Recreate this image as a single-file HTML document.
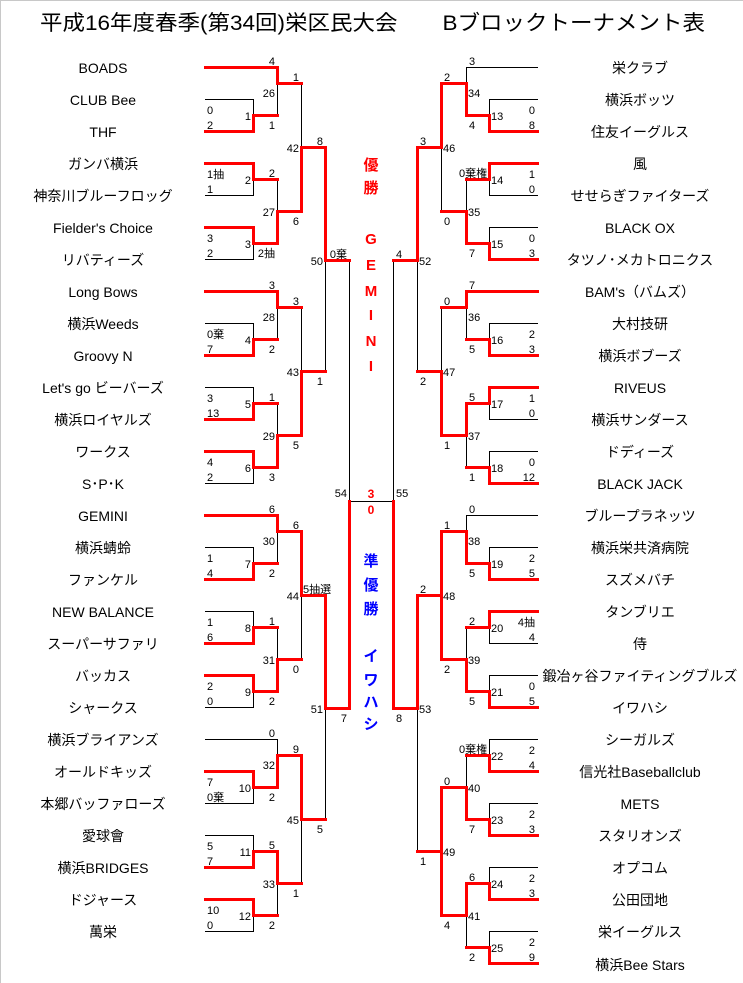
<!DOCTYPE html>
<html><head><meta charset="utf-8">
<style>
html,body{margin:0;padding:0;background:#fff;}
svg{display:block;}
text{font-family:"Liberation Sans","Noto Sans CJK JP",sans-serif;}
.n{font-size:11px;fill:#000;}
.t{font-size:14px;fill:#000;}
.l{text-anchor:middle;}
.e{text-anchor:end;}
</style></head><body>
<svg id="s" width="743" height="983" viewBox="0 0 743 983" xmlns="http://www.w3.org/2000/svg">
<rect x="0" y="0" width="743" height="983" fill="#fff"/>
<line x1="0" y1="0.5" x2="743" y2="0.5" stroke="#c8c8c8"/>
<line x1="0.5" y1="0" x2="0.5" y2="983" stroke="#c8c8c8"/>
<g id="lines"></g>
<text x="40" y="30" font-size="21" textLength="665" lengthAdjust="spacingAndGlyphs">平成16年度春季(第34回)栄区民大会　　Bブロックトーナメント表</text>

<g class="t l">
<text x="103" y="73">BOADS</text>
<text x="103" y="105">CLUB Bee</text>
<text x="103" y="137">THF</text>
<text x="103" y="169">ガンバ横浜</text>
<text x="103" y="201">神奈川ブルーフロッグ</text>
<text x="103" y="233">Fielder's Choice</text>
<text x="103" y="265">リバティーズ</text>
<text x="103" y="297">Long Bows</text>
<text x="103" y="329">横浜Weeds</text>
<text x="103" y="361">Groovy N</text>
<text x="103" y="393">Let's go ビーバーズ</text>
<text x="103" y="425">横浜ロイヤルズ</text>
<text x="103" y="457">ワークス</text>
<text x="103" y="489">S･P･K</text>
<text x="103" y="521">GEMINI</text>
<text x="103" y="553">横浜蜻蛉</text>
<text x="103" y="585">ファンケル</text>
<text x="103" y="617">NEW BALANCE</text>
<text x="103" y="649">スーパーサファリ</text>
<text x="103" y="681">バッカス</text>
<text x="103" y="713">シャークス</text>
<text x="103" y="745">横浜ブライアンズ</text>
<text x="103" y="777">オールドキッズ</text>
<text x="103" y="809">本郷バッファローズ</text>
<text x="103" y="841">愛球會</text>
<text x="103" y="873">横浜BRIDGES</text>
<text x="103" y="905">ドジャース</text>
<text x="103" y="937">萬栄</text>

<text x="640" y="73">栄クラブ</text>
<text x="640" y="105">横浜ボッツ</text>
<text x="640" y="137">住友イーグルス</text>
<text x="640" y="169">風</text>
<text x="640" y="201">せせらぎファイターズ</text>
<text x="640" y="233">BLACK OX</text>
<text x="640" y="265">タツノ･メカトロニクス</text>
<text x="640" y="297">BAM's（バムズ）</text>
<text x="640" y="329">大村技研</text>
<text x="640" y="361">横浜ボブーズ</text>
<text x="640" y="393">RIVEUS</text>
<text x="640" y="425">横浜サンダース</text>
<text x="640" y="457">ドディーズ</text>
<text x="640" y="489">BLACK JACK</text>
<text x="640" y="521">ブループラネッツ</text>
<text x="640" y="553">横浜栄共済病院</text>
<text x="640" y="585">スズメバチ</text>
<text x="640" y="617">タンブリエ</text>
<text x="640" y="649">侍</text>
<text x="640" y="681">鍛冶ヶ谷ファイティングブルズ</text>
<text x="640" y="713">イワハシ</text>
<text x="640" y="745">シーガルズ</text>
<text x="640" y="777">信光社Baseballclub</text>
<text x="640" y="809">METS</text>
<text x="640" y="841">スタリオンズ</text>
<text x="640" y="873">オプコム</text>
<text x="640" y="905">公田団地</text>
<text x="640" y="937">栄イーグルス</text>
<text x="640" y="970">横浜Bee Stars</text>
</g>

<g class="n">
<text x="207" y="114">0</text><text x="207" y="129">2</text>
<text x="207" y="178">1抽</text><text x="207" y="193">1</text>
<text x="207" y="242">3</text><text x="207" y="257">2</text>
<text x="207" y="338">0棄</text><text x="207" y="353">7</text>
<text x="207" y="402">3</text><text x="207" y="417">13</text>
<text x="207" y="466">4</text><text x="207" y="481">2</text>
<text x="207" y="562">1</text><text x="207" y="577">4</text>
<text x="207" y="626">1</text><text x="207" y="641">6</text>
<text x="207" y="690">2</text><text x="207" y="705">0</text>
<text x="207" y="786">7</text><text x="207" y="801">0棄</text>
<text x="207" y="850">5</text><text x="207" y="865">7</text>
<text x="207" y="914">10</text><text x="207" y="929">0</text>
<text x="303" y="593">5抽選</text>
<text x="459" y="177">0棄権</text>
<text x="459" y="753">0棄権</text>
</g>
<g class="n e">
<text x="251" y="120">1</text><text x="251" y="184">2</text><text x="251" y="248">3</text>
<text x="251" y="344">4</text><text x="251" y="408">5</text><text x="251" y="472">6</text>
<text x="251" y="568">7</text><text x="251" y="632">8</text><text x="251" y="696">9</text>
<text x="251" y="792">10</text><text x="251" y="856">11</text><text x="251" y="920">12</text>
<text x="275" y="65">4</text><text x="275" y="129">1</text><text x="275" y="97">26</text>
<text x="275" y="177">2</text><text x="275" y="257">2抽</text><text x="275" y="216">27</text>
<text x="275" y="289">3</text><text x="275" y="353">2</text><text x="275" y="321">28</text>
<text x="275" y="401">1</text><text x="275" y="481">3</text><text x="275" y="440">29</text>
<text x="275" y="513">6</text><text x="275" y="577">2</text><text x="275" y="545">30</text>
<text x="275" y="625">1</text><text x="275" y="705">2</text><text x="275" y="664">31</text>
<text x="275" y="737">0</text><text x="275" y="801">2</text><text x="275" y="769">32</text>
<text x="275" y="849">5</text><text x="275" y="929">2</text><text x="275" y="888">33</text>
<text x="299" y="81">1</text><text x="299" y="225">6</text><text x="299" y="152">42</text>
<text x="299" y="305">3</text><text x="299" y="449">5</text><text x="299" y="376">43</text>
<text x="299" y="529">6</text><text x="299" y="673">0</text><text x="299" y="600">44</text>
<text x="299" y="753">9</text><text x="299" y="897">1</text><text x="299" y="824">45</text>
<text x="323" y="145">8</text><text x="323" y="385">1</text><text x="323" y="265">50</text>
<text x="323" y="833">5</text><text x="323" y="713">51</text>
<text x="347" y="258">0棄</text><text x="347" y="722">7</text><text x="347" y="497">54</text>
<text x="535" y="114">0</text><text x="535" y="129">8</text>
<text x="535" y="178">1</text><text x="535" y="193">0</text>
<text x="535" y="242">0</text><text x="535" y="257">3</text>
<text x="535" y="338">2</text><text x="535" y="353">3</text>
<text x="535" y="402">1</text><text x="535" y="417">0</text>
<text x="535" y="466">0</text><text x="535" y="481">12</text>
<text x="535" y="562">2</text><text x="535" y="577">5</text>
<text x="535" y="626">4抽</text><text x="535" y="641">4</text>
<text x="535" y="690">0</text><text x="535" y="705">5</text>
<text x="535" y="754">2</text><text x="535" y="769">4</text>
<text x="535" y="818">2</text><text x="535" y="833">3</text>
<text x="535" y="882">2</text><text x="535" y="897">3</text>
<text x="535" y="946">2</text><text x="535" y="961">9</text>
</g>
<g class="n">
<text x="491" y="120">13</text><text x="491" y="184">14</text><text x="491" y="248">15</text>
<text x="491" y="344">16</text><text x="491" y="408">17</text><text x="491" y="472">18</text>
<text x="491" y="568">19</text><text x="491" y="632">20</text><text x="491" y="696">21</text>
<text x="491" y="760">22</text><text x="491" y="824">23</text><text x="491" y="888">24</text><text x="491" y="952">25</text>
<text x="469" y="65">3</text><text x="469" y="129">4</text><text x="468" y="97">34</text>
<text x="469" y="257">7</text><text x="468" y="216">35</text>
<text x="469" y="289">7</text><text x="469" y="353">5</text><text x="468" y="321">36</text>
<text x="469" y="401">5</text><text x="469" y="481">1</text><text x="468" y="440">37</text>
<text x="469" y="513">0</text><text x="469" y="577">5</text><text x="468" y="545">38</text>
<text x="469" y="625">2</text><text x="469" y="705">5</text><text x="468" y="664">39</text>
<text x="469" y="833">7</text><text x="468" y="792">40</text>
<text x="469" y="881">6</text><text x="469" y="961">2</text><text x="468" y="920">41</text>
<text x="444" y="81">2</text><text x="444" y="225">0</text><text x="443" y="152">46</text>
<text x="444" y="305">0</text><text x="444" y="449">1</text><text x="443" y="376">47</text>
<text x="444" y="529">1</text><text x="444" y="673">2</text><text x="443" y="600">48</text>
<text x="444" y="785">0</text><text x="444" y="929">4</text><text x="443" y="856">49</text>
<text x="420" y="145">3</text><text x="420" y="385">2</text><text x="419" y="265">52</text>
<text x="420" y="593">2</text><text x="420" y="865">1</text><text x="419" y="713">53</text>
<text x="396" y="258">4</text><text x="396" y="722">8</text><text x="396" y="497">55</text>
</g>

<g font-size="15" font-weight="bold" fill="#f00" text-anchor="middle">
<text x="371" y="498" font-size="12">3</text>
<text x="371" y="514" font-size="12">0</text>
<text x="371" y="170">優</text>
<text x="371" y="193">勝</text>
<text x="371" y="244">G</text>
<text x="371" y="270">E</text>
<text x="371" y="296">M</text>
<text x="371" y="320">I</text>
<text x="371" y="346">N</text>
<text x="371" y="371">I</text>
</g>
<g font-size="15" font-weight="bold" fill="#00f" text-anchor="middle">
<text x="371" y="566">準</text>
<text x="371" y="590">優</text>
<text x="371" y="614">勝</text>
<text x="371" y="661">イ</text>
<text x="371" y="685">ワ</text>
<text x="371" y="707">ハ</text>
<text x="371" y="729">シ</text>
</g>
</svg>
<script>
(function(){
var g=document.getElementById('lines');var NS='http://www.w3.org/2000/svg';
var R=[],B=[];
function seg(x1,y1,x2,y2,red){(red?R:B).push([x1,y1,x2,y2]);}
function Y(i){return 67+32*i;}
function M(x,yt,yb,yo,nx,win){
 seg(x,yt,x,yb,win==='a');
 if(win==='t')seg(x,yt,x,yo,1);
 if(win==='b')seg(x,yo,x,yb,1);
 seg(x,yo,nx,yo,1);
}
function box(side,r,win){
 var xs=side<0?205:537, xb=side<0?253:489, xn=side<0?277:466;
 seg(xs,Y(r),xb,Y(r),win==='t');
 seg(xs,Y(r+1),xb,Y(r+1),win==='b');
 M(xb,Y(r),Y(r+1),Y(r)+16,xn,win);
}
function quarter(side,b,singleRed,bw,m1,m2,m3){
 var xs=side<0?205:537, x2=side<0?277:466, x3=side<0?301:441, x4=side<0?325:417;
 seg(xs,Y(b),x2,Y(b),singleRed);
 box(side,b+1,bw[0]);box(side,b+3,bw[1]);box(side,b+5,bw[2]);
 M(x2,Y(b),Y(b+1)+16,Y(b)+16,x3,m1);
 M(x2,Y(b+3)+16,Y(b+5)+16,Y(b+4)+16,x3,m2);
 M(x3,Y(b)+16,Y(b+4)+16,Y(b+2)+16,x4,m3);
}
quarter(-1,0,1,['b','t','t'],'t','b','b');
quarter(-1,7,1,['b','b','t'],'t','b','b');
quarter(-1,14,1,['b','b','t'],'t','b','t');
quarter(-1,21,0,['t','b','t'],'b','t','t');
M(325,Y(2)+16,Y(9)+16,260,349,'t');
M(325,Y(16)+16,Y(23)+16,708,349,'t');
quarter(1,0,0,['b','t','b'],'b','b','t');
quarter(1,7,1,['b','t','b'],'t','t','b');
quarter(1,14,0,['b','t','b'],'b','b','a');
box(1,21,'b');box(1,23,'b');box(1,25,'b');box(1,27,'b');
M(466,Y(21)+16,Y(23)+16,Y(22)+16,441,'b');
M(466,Y(25)+16,Y(27)+16,Y(26)+16,441,'t');
M(441,Y(22)+16,Y(26)+16,Y(24)+16,417,'a');
M(417,Y(2)+16,Y(9)+16,260,393,'t');
M(417,Y(16)+16,Y(24)+16,708,393,'t');
seg(349,260,349,708,0);seg(393,260,393,708,0);
seg(349,501,393,501,0);
seg(349,501,349,708,1);seg(393,501,393,708,1);
function draw(arr,col,w){arr.forEach(function(s){var l=document.createElementNS(NS,'line');
 var o=(w%2)?0.5:0;
 l.setAttribute('x1',s[0]+o);l.setAttribute('y1',s[1]+o);l.setAttribute('x2',s[2]+o);l.setAttribute('y2',s[3]+o);
 l.setAttribute('stroke',col);l.setAttribute('stroke-width',w);l.setAttribute('stroke-linecap','square');g.appendChild(l);});}
draw(B,'#000',1);draw(R,'#f00',3);
})();
</script>
</body></html>
